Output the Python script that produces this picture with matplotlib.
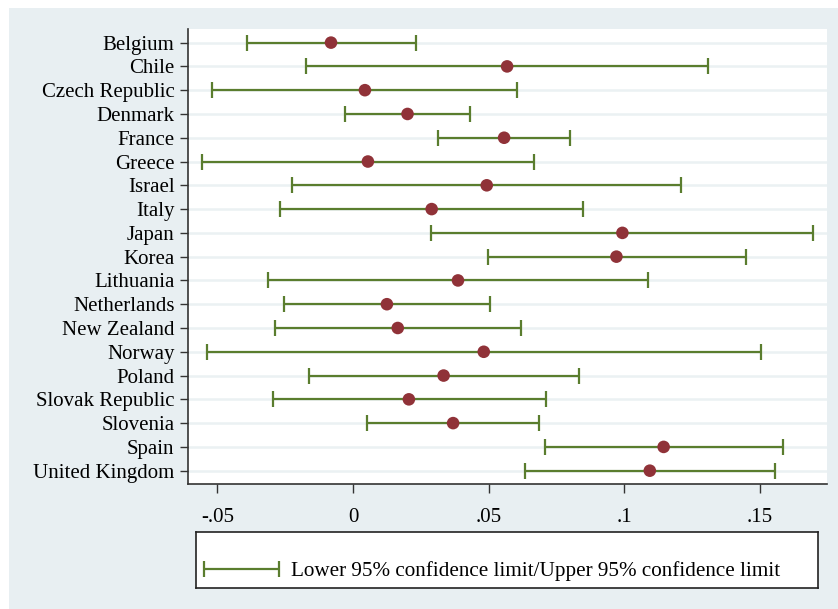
import matplotlib
matplotlib.use("Agg")
import matplotlib.pyplot as plt
from matplotlib.patches import Rectangle
from matplotlib.container import ErrorbarContainer
from matplotlib.legend_handler import HandlerErrorbar
import numpy as np

countries = [
    "Belgium", "Chile", "Czech Republic", "Denmark", "France", "Greece",
    "Israel", "Italy", "Japan", "Korea", "Lithuania", "Netherlands",
    "New Zealand", "Norway", "Poland", "Slovak Republic", "Slovenia",
    "Spain", "United Kingdom",
]
estimate = [
    -0.0081, 0.0568, 0.0044, 0.0201, 0.0557, 0.0055, 0.0493, 0.0290, 0.0993,
    0.0971, 0.0387, 0.0125, 0.0165, 0.0482, 0.0334, 0.0206, 0.0369, 0.1145,
    0.1094,
]
lower = [
    -0.0391, -0.0175, -0.0518, -0.0030, 0.0313, -0.0558, -0.0223, -0.0269,
    0.0289, 0.0496, -0.0313, -0.0253, -0.0289, -0.0537, -0.0162, -0.0296,
    0.0053, 0.0709, 0.0633,
]
upper = [
    0.0231, 0.1310, 0.0606, 0.0433, 0.0799, 0.0667, 0.1208, 0.0848, 0.1697,
    0.1448, 0.1088, 0.0505, 0.0621, 0.1504, 0.0832, 0.0713, 0.0684, 0.1584,
    0.1555,
]
xticks = [-0.05, 0, 0.05, 0.1, 0.15]
xtick_labels = ["-.05", "0", ".05", ".1", ".15"]
legend_label = "Lower 95% confidence limit/Upper 95% confidence limit"

BG = "#e8eff2"
GRID = "#ebf1f3"
GREEN = "#5a7d2e"
MAROON = "#903238"
FS = 15

plt.rcParams["font.family"] = ["Liberation Serif", "DejaVu Serif"]

W, H = 838, 609
fig = plt.figure(figsize=(W / 100, H / 100), dpi=100, facecolor="white")
fig.patches.append(Rectangle((9 / W, 0), 1, (H - 8) / H, transform=fig.transFigure,
                             facecolor=BG, edgecolor="none", zorder=-10))

ax = fig.add_axes([188.3 / W, (H - 484) / H, (826.7 - 188.3) / W, (484 - 29.3) / H])
ax.set_facecolor("white")

y = np.arange(len(countries))
est = np.asarray(estimate)
lo = np.asarray(lower)
hi = np.asarray(upper)

for yi in y:
    ax.axhline(yi, color=GRID, linewidth=1.8, zorder=0)

eb = ax.errorbar(est, y, xerr=[est - lo, hi - est], fmt="none", ecolor=GREEN,
                 elinewidth=1.6, capsize=5.5, capthick=1.6, zorder=2)
ax.scatter(est, y, s=82, color=MAROON, edgecolors="none", zorder=3)

ax.set_ylim(len(countries) - 1 + 0.56, -0.56)
ax.set_xlim(-0.0607, 0.1746)
ax.set_yticks(y)
ax.set_yticklabels(countries, fontsize=FS)
ax.set_xticks(xticks)
ax.set_xticklabels(xtick_labels, fontsize=FS)
ax.tick_params(axis="y", length=6, width=1, color="#333333", pad=4)
ax.tick_params(axis="x", length=6.5, width=1, color="#333333", pad=10.5)

for side in ("top", "right"):
    ax.spines[side].set_visible(False)
for side in ("left", "bottom"):
    ax.spines[side].set_color("#333333")
    ax.spines[side].set_linewidth(1.2)

# legend box
lax = fig.add_axes([195.7 / W, (H - 588.3) / H, (818.3 - 195.7) / W, 56 / H])
lax.set_facecolor("white")
lax.set_xticks([])
lax.set_yticks([])
for sp in lax.spines.values():
    sp.set_color("#222222")
    sp.set_linewidth(1.2)

hl = 3.55
lax.legend([eb], [legend_label], loc="center left",
           bbox_to_anchor=(0.013, 0.31), frameon=False, fontsize=15.2,
           handlelength=hl, handletextpad=0.6, borderpad=0, borderaxespad=0,
           handler_map={ErrorbarContainer: HandlerErrorbar(xerr_size=hl / 2)})

fig.savefig("out.png", dpi=100, facecolor=fig.get_facecolor())
